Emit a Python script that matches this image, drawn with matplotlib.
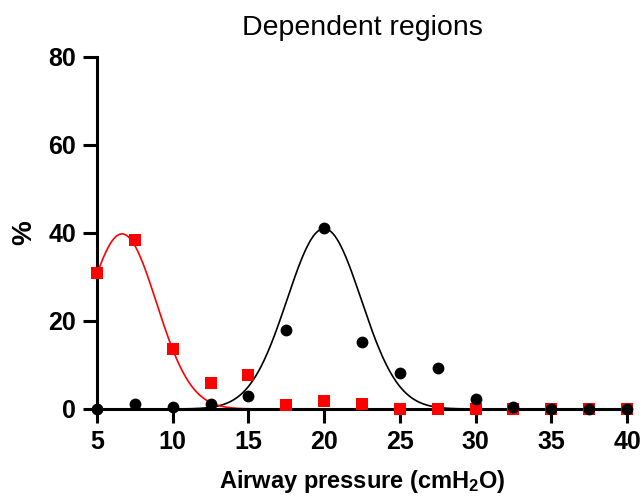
import numpy as np
import matplotlib
matplotlib.use("Agg")
import matplotlib.pyplot as plt

plt.rcParams['font.family'] = ['Liberation Sans', 'DejaVu Sans']
plt.rcParams['mathtext.default'] = 'regular'

# measured points
pressure = [5, 7.5, 10, 12.5, 15, 17.5, 20, 22.5, 25, 27.5, 30, 32.5, 35, 37.5, 40]
red_pct = [30.9, 38.4, 13.6, 5.9, 7.7, 0.9, 1.8, 1.1, 0, 0, 0, 0, 0, 0, 0]
black_pct = [0, 1.1, 0.5, 1.1, 3.0, 18.0, 41.1, 15.2, 8.2, 9.3, 2.3, 0.5, 0, 0, 0]

# gaussian fit parameters (amplitude, mean, sd)
red_fit = (39.8, 6.65, 2.28)
black_fit = (41.0, 20.0, 2.45)

xticks = [5, 10, 15, 20, 25, 30, 35, 40]
yticks = [0, 20, 40, 60, 80]


def gauss(x, amp, mu, sd):
    return amp * np.exp(-0.5 * ((x - mu) / sd) ** 2)


fig = plt.figure(figsize=(6.44, 5.03), dpi=100)
ax = fig.add_axes([97 / 644, 1 - 409 / 503, 530 / 644, 352 / 503])

xs = np.linspace(5, 40, 600)
ax.plot(xs, gauss(xs, *black_fit), color='black', lw=1.2, zorder=3, clip_on=False)
ax.plot(xs, gauss(xs, *red_fit), color='#ff0000', lw=1.2, zorder=3, clip_on=False)
ax.plot(pressure, red_pct, 's', color='#ff0000', ms=8.5, mew=0, zorder=5, clip_on=False)
ax.plot(pressure, black_pct, 'o', color='black', ms=8.5, mew=0, zorder=6, clip_on=False)

ax.set_xlim(5, 40)
ax.set_ylim(0, 80)
ax.set_xticks(xticks)
ax.set_yticks(yticks)
for s in ['top', 'right']:
    ax.spines[s].set_visible(False)
for s in ['left', 'bottom']:
    ax.spines[s].set_linewidth(2.2)
    ax.spines[s].set_zorder(4)
ax.tick_params(width=2.2, length=10, labelsize=18, pad=5)
for lab in ax.get_xticklabels() + ax.get_yticklabels():
    lab.set_fontweight('bold')

ax.set_xlabel('Airway pressure (cmH$_2$O)', fontsize=17, fontweight='bold', labelpad=10)
ax.set_ylabel('%', fontsize=20, fontweight='bold', labelpad=8)
fig.text(362 / 644, 1 - 35 / 503, 'Dependent regions', fontsize=20.5,
         ha='center', va='baseline')

fig.savefig('out.png', dpi=100)
